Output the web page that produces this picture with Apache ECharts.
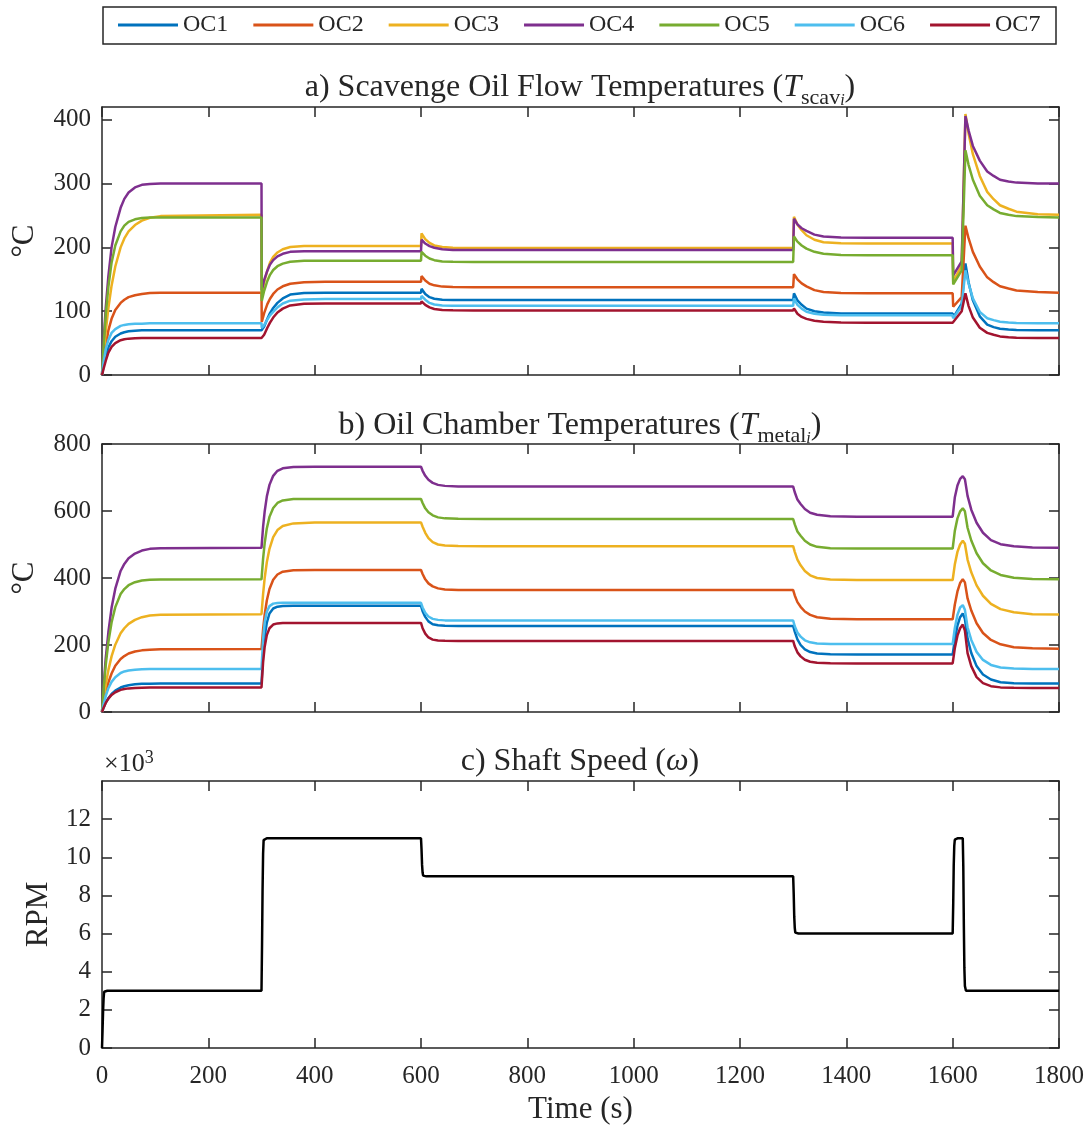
<!DOCTYPE html>
<html>
<head>
<meta charset="utf-8">
<script src="https://cdn.jsdelivr.net/npm/echarts@6/dist/echarts.min.js"></script>
<style>
  html, body { margin: 0; padding: 0; background: #ffffff; }
  #chart { width: 1091px; height: 1127px; }
</style>
</head>
<body>
<div id="chart"></div>
<script>
// ---------------- data ----------------
const chamberNames = ['OC1', 'OC2', 'OC3', 'OC4', 'OC5', 'OC6', 'OC7'];
const chamberColors = ['#0072BD', '#D95319', '#EDB120', '#7E2F8E', '#77AC30', '#4DBEEE', '#A2142F'];

// time axis ticks (s)
const timeMin = 0, timeMax = 1800, timeStep = 200;

// a) scavenge oil flow temperatures (degC)
const timeScav = [0, 3, 7, 12, 18, 25, 35, 42, 50, 62, 75, 90, 110, 300,
  300.5, 305, 311, 316, 322, 330, 340, 354, 380, 420, 600,
  601, 608, 616, 625, 640, 660, 700, 1300,
  1301.5, 1308, 1316, 1325, 1340, 1357, 1390, 1440, 1600,
  1601, 1617, 1624, 1630, 1638, 1651, 1665, 1677, 1689, 1705, 1720, 1760, 1800];
const scavOC1 = [0, 14, 29, 43, 53, 60, 65, 67, 68.5, 69.5, 70, 70, 70, 70,
  67, 76, 88, 97, 105, 113, 120, 126, 128.5, 129, 129,
  135, 127, 122, 119.5, 118, 117.5, 117.5, 117.5,
  128, 117, 110, 104, 100, 98, 96.5, 96.5, 96.5,
  90, 112, 175, 145, 117, 92, 79, 75, 72.5, 71.3, 70.5, 70, 70];
const scavOC2 = [0, 22, 45, 70, 88, 102, 113, 118, 122, 125, 127, 128.5, 129, 129,
  83, 97, 111, 119.5, 127, 134, 139, 143, 145.5, 146, 146,
  155, 148, 143, 140.5, 138.5, 137.8, 137.5, 137.5,
  158, 150, 143.5, 139, 133, 130, 128.5, 128, 128,
  107, 122, 234, 214, 193, 170, 153, 145.5, 139, 135.5, 132.5, 130, 129];
const scavOC3 = [0, 32, 68, 105, 140, 170, 200, 214, 225, 235, 242, 246.5, 249, 251,
  125, 145, 164, 176, 185, 192, 197, 200.5, 202, 202, 202,
  222, 213, 207, 203, 200.5, 199.5, 199, 199,
  248, 236, 227, 219, 212, 208, 206.5, 206, 206,
  146, 172, 409, 378, 346, 312, 287, 275.5, 266, 260.5, 256, 252, 251];
const scavOC4 = [0, 52, 105, 155, 200, 232, 262, 276, 286, 294, 298, 299.5, 300, 300,
  133, 149, 163.5, 173, 180, 186, 190, 193, 194, 194, 194,
  212, 206, 202, 199.5, 197, 196, 196, 196,
  245, 236, 230, 226, 220, 217, 215.5, 215, 215,
  156, 178, 406, 383, 359, 336, 319, 312, 306, 303.3, 301.5, 300, 300];
const scavOC5 = [0, 46, 95, 138, 176, 203, 225, 234, 240, 244, 246, 247, 247, 247,
  116, 132, 147.5, 157, 164.5, 170.5, 174.5, 177.5, 179, 179, 179,
  193, 187, 182.5, 180, 178, 177.3, 177, 177,
  217, 209, 203, 198, 193, 190, 188, 187.5, 187.5,
  142, 164, 352, 329, 306, 281, 266, 259.5, 254, 251, 249, 247.5, 247];
const scavOC6 = [0, 20, 40, 55, 66, 72, 77, 78.5, 79.5, 80.2, 80.5, 81, 81, 81,
  74, 78, 87, 93.5, 99, 106, 112, 116.5, 118.5, 119, 119,
  124, 118, 113, 110.5, 109, 108.5, 108.5, 108.5,
  120, 110, 104, 99, 96, 94.5, 93.7, 93.5, 93.5,
  89, 108, 164, 143, 120, 99, 89, 86, 83.5, 82.3, 81.5, 81, 81];
const scavOC7 = [0, 10, 22, 35, 44, 50, 54.5, 56, 57, 57.6, 58, 58, 58, 58,
  57, 63, 74, 82, 90, 98, 104, 109, 111.5, 112, 112,
  115.5, 110, 106, 103.5, 102, 101.3, 101, 101,
  104.5, 96, 91, 88, 85, 83.5, 82.3, 82, 82,
  79.5, 100, 128, 108, 90, 74, 66, 63, 60.5, 59.3, 58.5, 58, 58];

// b) oil chamber metal temperatures (degC)
const timeMetal = [0, 3, 7, 12, 18, 25, 35, 42, 50, 62, 75, 90, 110, 300,
  303, 306, 310, 315, 322, 330, 340, 360, 400, 600,
  603, 608, 614, 622, 632, 645, 670, 720, 1300,
  1303, 1308, 1314, 1322, 1332, 1345, 1370, 1420, 1600,
  1604, 1609, 1614, 1619, 1623, 1628, 1635, 1645, 1657, 1672, 1690, 1715, 1750, 1800];
const metalOC1 = [0, 13, 28, 41, 54, 64, 73, 77, 80, 82.5, 84, 84.6, 85, 85,
  171, 225, 267, 294, 309, 314.5, 316.5, 317, 317, 317,
  301, 284, 270.5, 262, 259, 257.5, 257, 257, 257,
  240, 217, 200, 187, 179, 174.5, 172.5, 172, 172,
  215, 258, 283, 294, 278, 219, 176, 137, 112, 97, 89, 86, 85, 85];
const metalOC2 = [0, 27, 58, 88, 115, 138, 158, 167, 174.5, 180.5, 184, 186, 187.5, 188,
  247, 291, 333, 367, 395, 410.5, 419, 423, 424, 424,
  412, 396, 384, 375, 369, 366, 364.3, 364, 364,
  348, 328, 314, 300, 290, 283, 278.5, 277, 277,
  320, 360, 385, 396, 387, 339, 303, 265, 236, 215, 202, 193.5, 190, 189];
const metalOC3 = [0, 38, 81, 125, 166, 201, 235, 250, 263, 275, 283, 288, 290, 292,
  352, 400, 447, 487, 522, 543, 555, 563, 566, 566,
  553, 535, 519, 507, 500, 497, 495.3, 495, 495,
  478, 455, 438, 421, 408, 400, 395.5, 394, 394,
  440, 478, 500, 511, 502, 455, 417, 378, 347, 323, 307, 297.5, 292, 291];
const metalOC4 = [0, 76, 160, 238, 311, 368, 421, 442, 459, 473, 482, 487, 489, 490,
  553, 599, 643, 678, 705, 720, 727.5, 731.5, 732, 732,
  720, 705, 693, 684, 678, 675, 673.3, 673, 673,
  656, 634, 621, 606, 595, 589, 584.5, 583, 583,
  640, 676, 696, 704, 695, 645, 604, 565, 535, 513, 501, 494.5, 491, 490];
const metalOC5 = [0, 68, 140, 209, 267, 313, 352, 367, 378.5, 387.5, 392.5, 394.5, 395.5, 396,
  458, 504, 548, 582.5, 609, 624, 631.5, 635.5, 636, 636,
  624, 608, 596, 587, 581, 578, 576.5, 576, 576,
  560, 539, 526, 511, 500, 493, 489, 488, 488,
  540, 578, 599, 608, 599, 550, 512, 474, 444, 422.5, 409, 400.5, 397, 396];
const metalOC6 = [0, 23, 47.5, 71, 90, 104, 116.5, 121, 124, 126.3, 127.5, 128.2, 128.5, 128.5,
  217.5, 267, 299, 316, 323.5, 325.5, 326, 326, 326, 326,
  312, 296, 285, 278, 275, 273.5, 273, 273, 273,
  256, 237, 225, 214, 208, 204.5, 203.2, 203, 203,
  250, 290, 312, 319, 305, 253, 215, 179.5, 155.5, 140.5, 133, 129.7, 128.6, 128.5];
const metalOC7 = [0, 13, 27, 40, 51, 59, 66, 68.7, 70.5, 71.8, 72.5, 72.9, 73, 73,
  149, 195, 229.5, 250, 261, 264.5, 265.5, 266, 266, 266,
  250, 234, 222.5, 216, 213.3, 212.4, 212, 212, 212,
  196, 178, 166, 156, 150, 147, 145.3, 145, 145,
  190, 228, 250, 261, 243, 176, 137, 104, 86, 77, 73.5, 72.3, 72, 72];

// c) shaft speed (RPM)
const timeSpeed = [0, 1, 2, 3, 4, 6, 10, 300,
  301, 302, 303, 304, 306, 310, 600,
  601, 602, 603, 604, 606, 610, 1300,
  1301, 1302, 1303, 1304, 1306, 1310, 1600,
  1601, 1602, 1603, 1604, 1606, 1610, 1619,
  1620, 1621, 1622, 1623, 1625, 1630, 1800];
const shaftRPM = [0, 900, 1900, 2600, 2950, 3000, 3000, 3000,
  5400, 8300, 10200, 10900, 11000, 11000, 11000,
  10400, 9600, 9200, 9040, 9000, 9000, 9000,
  8100, 6900, 6300, 6050, 6000, 6000, 6000,
  7500, 9600, 10600, 10920, 11000, 11000, 11000,
  9500, 6500, 4200, 3250, 3000, 3000, 3000];

const scavSeries = [scavOC1, scavOC2, scavOC3, scavOC4, scavOC5, scavOC6, scavOC7];
const metalSeries = [metalOC1, metalOC2, metalOC3, metalOC4, metalOC5, metalOC6, metalOC7];

// ---------------- styling ----------------
const FONT = '"Liberation Serif", "Times New Roman", serif';
const INK = '#262626';
const TICK_FS = 25;
const LABEL_FS = 31;
const TITLE_FS = 32;

const grids = [
  { left: 102, top: 107, width: 957, height: 268 },
  { left: 102, top: 444, width: 957, height: 268 },
  { left: 102, top: 781, width: 957, height: 267 }
];

const lineAxisStyle = { show: true, onZero: false, lineStyle: { color: INK, width: 1.5 } };
const tickStyle = { show: true, inside: true, length: 10, lineStyle: { color: INK, width: 1.5 } };

const xAxes = [];
const yAxes = [];
const yCfg = [
  { min: 0, max: 420, interval: 100, name: '°C', gap: 62, showMax: false, fmt: v => String(v) },
  { min: 0, max: 800, interval: 200, name: '°C', gap: 62, showMax: true, fmt: v => String(v) },
  { min: 0, max: 14000, interval: 2000, name: 'RPM', gap: 48, showMax: false, fmt: v => String(v / 1000) }
];

grids.forEach((g, i) => {
  xAxes.push({
    gridIndex: i, type: 'value', position: 'bottom',
    min: timeMin, max: timeMax, interval: timeStep,
    axisLine: lineAxisStyle, axisTick: tickStyle, splitLine: { show: false },
    axisLabel: { show: i === 2, margin: 16, color: INK, fontFamily: FONT, fontSize: TICK_FS,
      formatter: v => String(v) },
    name: i === 2 ? 'Time (s)' : '',
    nameLocation: 'middle', nameGap: 46,
    nameTextStyle: { color: INK, fontFamily: FONT, fontSize: LABEL_FS }
  });
  xAxes.push({
    gridIndex: i, type: 'value', position: 'top',
    min: timeMin, max: timeMax, interval: timeStep,
    axisLine: lineAxisStyle, axisTick: tickStyle, splitLine: { show: false },
    axisLabel: { show: false }
  });
  const c = yCfg[i];
  yAxes.push({
    gridIndex: i, type: 'value', position: 'left',
    min: c.min, max: c.max, interval: c.interval,
    axisLine: lineAxisStyle, axisTick: tickStyle, splitLine: { show: false },
    axisLabel: {
      margin: 11, color: INK, fontFamily: FONT, fontSize: TICK_FS,
      showMaxLabel: c.showMax, formatter: c.fmt
    },
    name: c.name, nameLocation: 'middle', nameRotate: 90, nameGap: c.gap,
    nameTextStyle: { color: INK, fontFamily: FONT, fontSize: LABEL_FS }
  });
  yAxes.push({
    gridIndex: i, type: 'value', position: 'right',
    min: c.min, max: c.max, interval: c.interval,
    axisLine: lineAxisStyle, axisTick: tickStyle, splitLine: { show: false },
    axisLabel: { show: false }
  });
});

function pairs(t, v) { return t.map((x, k) => [x, v[k]]); }

const series = [];
chamberNames.forEach((name, k) => {
  series.push({
    name, type: 'line', xAxisIndex: 0, yAxisIndex: 0,
    data: pairs(timeScav, scavSeries[k]),
    color: chamberColors[k], showSymbol: false, symbol: 'none',
    lineStyle: { width: 2.5, color: chamberColors[k] }, z: 3 + k
  });
});
chamberNames.forEach((name, k) => {
  series.push({
    name, type: 'line', xAxisIndex: 2, yAxisIndex: 2,
    data: pairs(timeMetal, metalSeries[k]),
    color: chamberColors[k], showSymbol: false, symbol: 'none',
    lineStyle: { width: 2.5, color: chamberColors[k] }, z: 3 + k
  });
});
series.push({
  name: 'Shaft speed', type: 'line', xAxisIndex: 4, yAxisIndex: 4,
  data: pairs(timeSpeed, shaftRPM),
  color: '#000000', showSymbol: false, symbol: 'none',
  lineStyle: { width: 2.5, color: '#000000' }, z: 3
});

const base = { fontFamily: FONT, fontWeight: 'normal', color: INK };
const rich = {
  n: Object.assign({}, base, { fontSize: TITLE_FS, lineHeight: 42, verticalAlign: 'middle' }),
  it: Object.assign({}, base, { fontSize: TITLE_FS, fontStyle: 'italic', lineHeight: 42, verticalAlign: 'middle' }),
  sub: Object.assign({}, base, { fontSize: 22, lineHeight: 22, verticalAlign: 'bottom' }),
  ss: Object.assign({}, base, { fontSize: 16, fontStyle: 'italic', lineHeight: 13, verticalAlign: 'bottom' }),
  m: Object.assign({}, base, { fontSize: 26, lineHeight: 30, verticalAlign: 'middle' }),
  sup: Object.assign({}, base, { fontSize: 18, lineHeight: 18, verticalAlign: 'top' })
};
const titleText = { fontWeight: 'normal', rich };

const option = {
  animation: false,
  backgroundColor: '#ffffff',
  grid: grids,
  xAxis: xAxes,
  yAxis: yAxes,
  legend: {
    data: chamberNames, left: 118, top: 13, padding: 0,
    icon: 'rect', itemWidth: 60, itemHeight: 3, itemGap: 25,
    selectedMode: false,
    textStyle: { color: INK, fontFamily: FONT, fontSize: 24 }
  },
  title: [
    { text: '{n|a) Scavenge Oil Flow Temperatures (}{it|T}{sub|scav}{ss|i}{n|)}',
      left: 580, top: 67, textAlign: 'center', padding: 0, textStyle: titleText },
    { text: '{n|b) Oil Chamber Temperatures (}{it|T}{sub|metal}{ss|i}{n|)}',
      left: 580, top: 405, textAlign: 'center', padding: 0, textStyle: titleText },
    { text: '{n|c) Shaft Speed (}{it|ω}{n|)}',
      left: 580, top: 741, textAlign: 'center', padding: 0, textStyle: titleText },
    { text: '{m|×10}{sup|3}', left: 104, top: 749, padding: 0, textStyle: titleText }
  ],
  graphic: [
    { type: 'rect', silent: true, z: -1,
      shape: { x: 103, y: 7, width: 953, height: 37 },
      style: { fill: 'none', stroke: INK, lineWidth: 1.5 } }
  ],
  series
};

const chart = echarts.init(document.getElementById('chart'), null, { renderer: 'canvas' });
chart.setOption(option);
</script>
</body>
</html>
